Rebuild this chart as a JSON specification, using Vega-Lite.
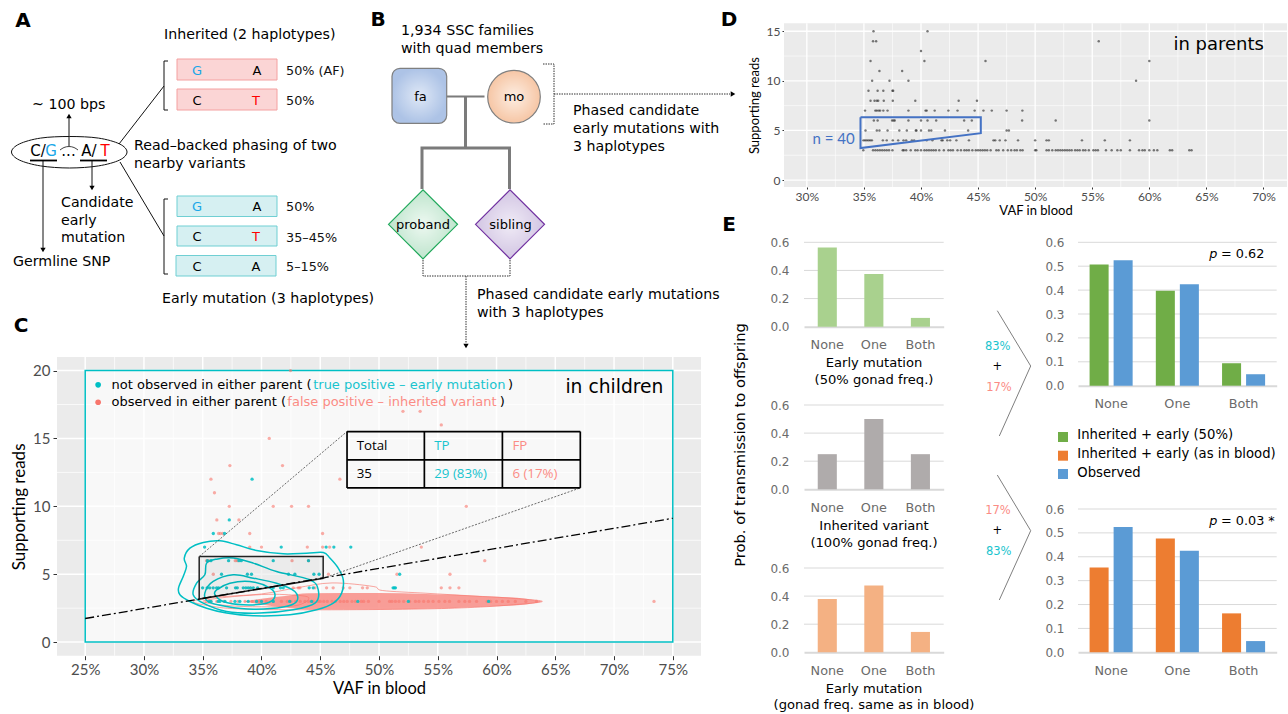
{
"$schema":"https://vega.github.io/schema/vega-lite/v6.json",
"width":1288,"height":714,"padding":0,"autosize":{"type":"none"},"background":"white",
"config":{"view":{"stroke":null},"axis":{"grid":false,"domain":false,"titleFontWeight":"normal"}},
"resolve":{"scale":{"x":"independent","y":"independent","color":"independent","strokeWidth":"independent","shape":"independent","xOffset":"independent"},"axis":{"x":"independent","y":"independent"}},
"layer":[
{"resolve":{"scale":{"color":"independent"}},
 "encoding":{
 "x":{"field":"x","type":"quantitative","scale":{"domain":[22.6,77.4],"range":[57,701]},
    "axis":{"orient":"bottom","offset":-58.3,"values":[25,30,35,40,45,50,55,60,65,70,75],"labelExpr":"datum.value+'%'","labelFont":"Lato","labelFontSize":15,"labelColor":"#4d4d4d","tickColor":"#333333","tickSize":4,"labelPadding":3,"title":"VAF in blood","titleFont":"Lato","titleFontSize":16.5,"titleColor":"#000000","titlePadding":3}},
 "y":{"field":"y","type":"quantitative","scale":{"domain":[-1,21],"range":[655.7,357]},
    "axis":{"orient":"left","offset":-57,"values":[0,5,10,15,20],"labelFont":"Lato","labelFontSize":15,"labelColor":"#4d4d4d","tickColor":"#333333","tickSize":4,"labelPadding":3,"title":"Supporting reads","titleFont":"Lato","titleFontSize":17,"titleColor":"#000000","titlePadding":4}}},
 "layer":[
 {"data":{"values":[{"x":22.6,"xe":77.4,"y":-1,"ye":21}]},"mark":{"type":"rect","color":"#ebebeb"},
  "encoding":{"x2":{"field":"xe"},"y2":{"field":"ye"}}},
 {"data":{"values":[{"x":25,"k":"major","y":-1,"ye":21},{"x":30,"k":"major","y":-1,"ye":21},{"x":35,"k":"major","y":-1,"ye":21},{"x":40,"k":"major","y":-1,"ye":21},{"x":45,"k":"major","y":-1,"ye":21},{"x":50,"k":"major","y":-1,"ye":21},{"x":55,"k":"major","y":-1,"ye":21},{"x":60,"k":"major","y":-1,"ye":21},{"x":65,"k":"major","y":-1,"ye":21},{"x":70,"k":"major","y":-1,"ye":21},{"x":75,"k":"major","y":-1,"ye":21},{"x":27.5,"k":"minor","y":-1,"ye":21},{"x":32.5,"k":"minor","y":-1,"ye":21},{"x":37.5,"k":"minor","y":-1,"ye":21},{"x":42.5,"k":"minor","y":-1,"ye":21},{"x":47.5,"k":"minor","y":-1,"ye":21},{"x":52.5,"k":"minor","y":-1,"ye":21},{"x":57.5,"k":"minor","y":-1,"ye":21},{"x":62.5,"k":"minor","y":-1,"ye":21},{"x":67.5,"k":"minor","y":-1,"ye":21},{"x":72.5,"k":"minor","y":-1,"ye":21}]},
  "mark":{"type":"rule","color":"#ffffff"},"encoding":{"y2":{"field":"ye"},"strokeWidth":{"field":"k","type":"nominal","scale":{"domain":["major","minor"],"range":[1.5,0.7]},"legend":null}}},
 {"data":{"values":[{"y":0,"k":"major","x":22.6,"xe":77.4},{"y":5,"k":"major","x":22.6,"xe":77.4},{"y":10,"k":"major","x":22.6,"xe":77.4},{"y":15,"k":"major","x":22.6,"xe":77.4},{"y":20,"k":"major","x":22.6,"xe":77.4},{"y":2.5,"k":"minor","x":22.6,"xe":77.4},{"y":7.5,"k":"minor","x":22.6,"xe":77.4},{"y":12.5,"k":"minor","x":22.6,"xe":77.4},{"y":17.5,"k":"minor","x":22.6,"xe":77.4}]},
  "mark":{"type":"rule","color":"#ffffff"},
  "encoding":{"x2":{"field":"xe"},"strokeWidth":{"field":"k","type":"nominal","scale":{"domain":["major","minor"],"range":[1.5,0.7]},"legend":null}}},
 {"data":{"values":[{"x":25,"xe":75,"y":0,"ye":20}]},"mark":{"type":"rect","fill":"#ffffff","fillOpacity":0.65,"stroke":"#00bfc4","strokeWidth":1.5},
  "encoding":{"x2":{"field":"xe"},"y2":{"field":"ye"}}},
 {"data":{"values":[{"x":38.5,"lo":3.0,"hi":3.0},{"x":40,"lo":2.78,"hi":3.2},{"x":42,"lo":2.55,"hi":3.4},{"x":44,"lo":2.4,"hi":3.6},{"x":50,"lo":2.4,"hi":3.62},{"x":54,"lo":2.45,"hi":3.55},{"x":56.5,"lo":2.52,"hi":3.48},{"x":59,"lo":2.6,"hi":3.38},{"x":61,"lo":2.68,"hi":3.3},{"x":62.5,"lo":2.78,"hi":3.2},{"x":63.9,"lo":3.0,"hi":3.0}]},
  "mark":{"type":"area","color":"#F8766D","opacity":0.7,"interpolate":"monotone"},"encoding":{"y":{"field":"lo","type":"quantitative"},"y2":{"field":"hi"}}},
 {"data":{"values":[
  {"g":"p1","x":34.2,"y":3.0},{"g":"p1","x":36,"y":3.3},{"g":"p1","x":40,"y":3.55},{"g":"p1","x":43,"y":4.0},{"g":"p1","x":46,"y":4.36},{"g":"p1","x":49.5,"y":4.1},{"g":"p1","x":50.3,"y":3.8},{"g":"p1","x":54,"y":3.6},{"g":"p1","x":58,"y":3.4},{"g":"p1","x":61,"y":3.25},{"g":"p1","x":63.9,"y":3.0},{"g":"p1","x":61,"y":2.72},{"g":"p1","x":57,"y":2.52},{"g":"p1","x":52,"y":2.42},{"g":"p1","x":44,"y":2.38},{"g":"p1","x":38,"y":2.45},{"g":"p1","x":35.5,"y":2.68},
  {"g":"p2","x":35,"y":3.0},{"g":"p2","x":37,"y":3.3},{"g":"p2","x":40,"y":3.5},{"g":"p2","x":42,"y":3.5},{"g":"p2","x":44,"y":3.3},{"g":"p2","x":43,"y":2.7},{"g":"p2","x":40,"y":2.6},{"g":"p2","x":37,"y":2.7}]},
  "mark":{"type":"line","order":null,"interpolate":"cardinal-closed","color":"#F8766D","opacity":0.65,"strokeWidth":1},"encoding":{"detail":{"field":"g"}}},
 {"data":{"values":[
  {"x":42.47,"y":20},{"x":52.04,"y":17},{"x":53.5,"y":17},{"x":55.3,"y":16},{"x":40.66,"y":15},{"x":37.31,"y":13},{"x":41.79,"y":13},{"x":35.7,"y":12},{"x":46.67,"y":12},{"x":36,"y":11},{"x":37.26,"y":10},{"x":41,"y":10},{"x":42.56,"y":10},{"x":44,"y":10},{"x":57.43,"y":10},{"x":36.2,"y":9},{"x":38.08,"y":9},{"x":36.35,"y":8},{"x":36.5,"y":8},{"x":36.7,"y":8},{"x":39,"y":8},{"x":45.2,"y":8},
  {"x":39,"y":7},{"x":40,"y":7},{"x":43.9,"y":7},{"x":45.2,"y":7},{"x":45.8,"y":7},{"x":53.6,"y":7},{"x":35.33,"y":6},{"x":35.5,"y":6},{"x":37.77,"y":6},{"x":37.94,"y":6},{"x":42.6,"y":6},{"x":44,"y":6},{"x":59,"y":6},{"x":35.9,"y":5},{"x":45.7,"y":5},{"x":51.53,"y":5},{"x":56.04,"y":5},
  {"x":42.7,"y":4},{"x":43.13,"y":4},{"x":43.27,"y":4},{"x":44.55,"y":4},{"x":45.54,"y":4},{"x":46.1,"y":4},{"x":46.96,"y":4},{"x":47.52,"y":4},{"x":48.6,"y":4},{"x":49,"y":4},{"x":55.3,"y":4},{"x":56.04,"y":4},{"x":56.8,"y":4},
  {"x":35.3,"y":3},{"x":35.7,"y":3},{"x":36.2,"y":3},{"x":36.8,"y":3},{"x":37.4,"y":3},{"x":38,"y":3},{"x":38.6,"y":3},{"x":39.2,"y":3},{"x":39.8,"y":3},{"x":40.4,"y":3},{"x":41,"y":3},{"x":41.7,"y":3},{"x":42.2,"y":3},{"x":42.5,"y":3},{"x":42.9,"y":3},{"x":43.3,"y":3},{"x":43.7,"y":3},{"x":44,"y":3},{"x":44.4,"y":3},{"x":44.8,"y":3},{"x":45,"y":3},{"x":45.3,"y":3},{"x":45.6,"y":3},{"x":46,"y":3},{"x":46.3,"y":3},{"x":46.7,"y":3},{"x":47,"y":3},{"x":47.3,"y":3},{"x":47.7,"y":3},{"x":48,"y":3},{"x":48.5,"y":3},{"x":48.7,"y":3},{"x":49.1,"y":3},{"x":50,"y":3},{"x":50.9,"y":3},{"x":51.1,"y":3},{"x":51.4,"y":3},{"x":51.7,"y":3},{"x":52.1,"y":3},{"x":52.6,"y":3},{"x":53.1,"y":3},{"x":53.4,"y":3},{"x":53.8,"y":3},{"x":54.2,"y":3},{"x":54.6,"y":3},{"x":55.1,"y":3},{"x":55.6,"y":3},{"x":56,"y":3},{"x":56.8,"y":3},{"x":57.3,"y":3},{"x":57.7,"y":3},{"x":58.3,"y":3},{"x":59.2,"y":3},{"x":59.5,"y":3},{"x":60,"y":3},{"x":60.5,"y":3},{"x":61,"y":3},{"x":61.6,"y":3},{"x":62.5,"y":3},{"x":63.4,"y":3},{"x":73.4,"y":3}]},
  "mark":{"type":"circle","color":"#F8766D","opacity":0.6,"size":11}},
 {"data":{"values":[
  {"x":39.2,"y":12},{"x":37.26,"y":9},{"x":35.9,"y":8},{"x":36.86,"y":8},{"x":35.16,"y":7},{"x":41.68,"y":7},{"x":45.5,"y":7},{"x":46.16,"y":7},{"x":47.6,"y":7},
  {"x":35.4,"y":6},{"x":35.7,"y":6},{"x":37.2,"y":6},{"x":38.08,"y":6},{"x":38.28,"y":6},{"x":41,"y":6},{"x":44,"y":6},
  {"x":36.6,"y":5},{"x":38.8,"y":5},{"x":39.15,"y":5},{"x":42.3,"y":5},{"x":42.84,"y":5},{"x":44.46,"y":5},{"x":44.9,"y":5},{"x":51.76,"y":5},
  {"x":34.99,"y":4},{"x":35.38,"y":4},{"x":35.6,"y":4},{"x":35.89,"y":4},{"x":36.18,"y":4},{"x":36.35,"y":4},{"x":37.03,"y":4},{"x":37.79,"y":4},{"x":37.94,"y":4},{"x":38.45,"y":4},{"x":38.67,"y":4},{"x":38.87,"y":4},{"x":39.07,"y":4},{"x":39.3,"y":4},{"x":39.67,"y":4},{"x":41,"y":4},{"x":41.62,"y":4},{"x":41.85,"y":4},{"x":44.06,"y":4},{"x":44.4,"y":4},{"x":51.2,"y":4},{"x":51.3,"y":4},{"x":51.4,"y":4},
  {"x":35.55,"y":3},{"x":35.7,"y":3},{"x":36.32,"y":3},{"x":36.46,"y":3},{"x":36.89,"y":3},{"x":37.74,"y":3},{"x":38.16,"y":3},{"x":38.87,"y":3},{"x":39.58,"y":3},{"x":40,"y":3},{"x":41,"y":3},{"x":42.4,"y":3},{"x":44.26,"y":3},{"x":48.2,"y":3},{"x":52.5,"y":3},{"x":59.33,"y":3}]},
  "mark":{"type":"circle","color":"#00BFC4","opacity":0.85,"size":11}},
 {"data":{"values":[
  {"g":"c1","x":32.94,"y":3.98},{"g":"c1","x":33.34,"y":4.84},{"g":"c1","x":33.62,"y":5.57},{"g":"c1","x":33.43,"y":6.19},{"g":"c1","x":33.91,"y":6.92},{"g":"c1","x":35.04,"y":7.34},{"g":"c1","x":36.46,"y":7.46},{"g":"c1","x":37.88,"y":7.17},{"g":"c1","x":39.58,"y":6.75},{"g":"c1","x":41.85,"y":6.5},{"g":"c1","x":43.84,"y":6.55},{"g":"c1","x":45.26,"y":6.6},{"g":"c1","x":45.82,"y":6.19},{"g":"c1","x":46.53,"y":5.45},{"g":"c1","x":46.96,"y":4.59},{"g":"c1","x":46.82,"y":3.61},{"g":"c1","x":46.11,"y":2.87},{"g":"c1","x":44.69,"y":2.38},{"g":"c1","x":42.42,"y":2.01},{"g":"c1","x":39.3,"y":1.94},{"g":"c1","x":37.03,"y":2.14},{"g":"c1","x":35.33,"y":2.5},{"g":"c1","x":33.91,"y":2.99},{"g":"c1","x":33.06,"y":3.49},
  {"g":"c2","x":35.33,"y":5.82},{"g":"c2","x":36.18,"y":6.11},{"g":"c2","x":37.6,"y":6.19},{"g":"c2","x":39.3,"y":5.82},{"g":"c2","x":41.28,"y":5.2},{"g":"c2","x":44.12,"y":4.59},{"g":"c2","x":44.83,"y":3.85},{"g":"c2","x":44.55,"y":2.87},{"g":"c2","x":42.7,"y":2.38},{"g":"c2","x":39.87,"y":2.14},{"g":"c2","x":37.03,"y":2.26},{"g":"c2","x":35.04,"y":2.87},{"g":"c2","x":34.19,"y":3.49},{"g":"c2","x":34.48,"y":4.34},{"g":"c2","x":35.18,"y":4.96},
  {"g":"c3","x":35.18,"y":3.61},{"g":"c3","x":35.89,"y":4.47},{"g":"c3","x":37.6,"y":4.96},{"g":"c3","x":39.3,"y":4.71},{"g":"c3","x":41.28,"y":4.34},{"g":"c3","x":42.84,"y":3.73},{"g":"c3","x":42.99,"y":2.99},{"g":"c3","x":41.85,"y":2.58},{"g":"c3","x":39.3,"y":2.43},{"g":"c3","x":37.03,"y":2.63},{"g":"c3","x":35.47,"y":2.99},
  {"g":"c4","x":36.18,"y":3.85},{"g":"c4","x":37.31,"y":4.34},{"g":"c4","x":39.01,"y":4.47},{"g":"c4","x":40.72,"y":3.98},{"g":"c4","x":41.14,"y":3.36},{"g":"c4","x":40.43,"y":2.87},{"g":"c4","x":38.45,"y":2.75},{"g":"c4","x":36.74,"y":2.99},{"g":"c4","x":36.04,"y":3.49}]},
  "mark":{"type":"line","order":null,"interpolate":"cardinal-closed","color":"#00BFC4","strokeWidth":1.5},"encoding":{"detail":{"field":"g"}}},
 {"data":{"values":[{"x":34.7,"lo":3.17,"hi":6.3},{"x":45.25,"lo":4.7,"hi":6.3}]},"mark":{"type":"area","color":"#000000","opacity":0.05},"encoding":{"y":{"field":"lo","type":"quantitative"},"y2":{"field":"hi"}}},
 {"data":{"values":[{"x":34.7,"y":6.3},{"x":45.25,"y":6.3},{"x":45.25,"y":4.7},{"x":34.7,"y":3.17},{"x":34.7,"y":6.3}]},"mark":{"type":"line","order":null,"color":"#222222","strokeWidth":1.5}},
 {"data":{"values":[{"x":25,"y":1.74},{"x":75,"y":9.12}]},"mark":{"type":"line","color":"#000000","strokeWidth":1.3,"strokeDash":[9,3,2,3]}},
 {"data":{"values":[{"g":"a","x":34.7,"y":6.3},{"g":"a","x":47.28,"y":15.51},{"g":"b","x":45.25,"y":4.7},{"g":"b","x":67.13,"y":11.36}]},"mark":{"type":"line","color":"#444444","strokeWidth":0.8,"strokeDash":[2,1.5]},"encoding":{"detail":{"field":"g"}}},
 {"data":{"values":[{"x":47.28,"xe":67.13,"y":15.51,"ye":15.51},{"x":47.28,"xe":67.13,"y":13.43,"ye":13.43},{"x":47.28,"xe":67.13,"y":11.36,"ye":11.36},{"x":47.28,"xe":47.28,"y":15.51,"ye":11.36},{"x":53.86,"xe":53.86,"y":15.51,"ye":11.36},{"x":60.5,"xe":60.5,"y":15.51,"ye":11.36},{"x":67.13,"xe":67.13,"y":15.51,"ye":11.36}]},
  "mark":{"type":"rule","color":"#000000","strokeWidth":1.7},"encoding":{"x2":{"field":"xe"},"y2":{"field":"ye"}}},
 {"data":{"values":[{"x":48.1,"y":14.47,"t":"Total","c":"k"},{"x":48.1,"y":12.4,"t":"35","c":"k"},{"x":54.7,"y":14.47,"t":"TP","c":"teal"},{"x":54.7,"y":12.4,"t":"29 (83%)","c":"teal"},{"x":61.35,"y":14.47,"t":"FP","c":"salmon"},{"x":61.35,"y":12.4,"t":"6 (17%)","c":"salmon"}]},
  "mark":{"type":"text","align":"left","baseline":"middle","font":"Open Sans","fontSize":13.3},
  "encoding":{"text":{"field":"t"},"color":{"field":"c","type":"nominal","scale":{"domain":["k","teal","salmon"],"range":["#000000","#19C4CE","#FB8C85"]},"legend":null}}},
 {"data":{"values":[{"x":27.24,"y":18.95,"t":"not observed in either parent (","c":"k"},{"x":44.4,"y":18.95,"t":"true positive – early mutation","c":"teal"},{"x":60.98,"y":18.95,"t":")","c":"k"},{"x":27.24,"y":17.67,"t":"observed in either parent (","c":"k"},{"x":42.2,"y":17.67,"t":"false positive – inherited variant","c":"salmon"},{"x":60.27,"y":17.67,"t":")","c":"k"}]},
  "mark":{"type":"text","align":"left","baseline":"middle","font":"DejaVu Sans","fontSize":13},
  "encoding":{"text":{"field":"t"},"color":{"field":"c","type":"nominal","scale":{"domain":["k","teal","salmon"],"range":["#000000","#19C4CE","#FB8C85"]},"legend":null}}},
 {"data":{"values":[{"x":26.1,"y":18.95,"c":"teal"},{"x":26.1,"y":17.67,"c":"salmon"}]},"mark":{"type":"circle","size":32,"opacity":1},
  "encoding":{"color":{"field":"c","type":"nominal","scale":{"domain":["teal","salmon"],"range":["#00BFC4","#F8766D"]},"legend":null}}},
 {"data":{"values":[{"x":74.2,"y":18.8,"t":"in children"}]},"mark":{"type":"text","align":"right","baseline":"middle","font":"DejaVu Sans","fontSize":18.7,"color":"#000000"},"encoding":{"text":{"field":"t"}}}
 ]},
{"encoding":{
 "x":{"field":"x","type":"quantitative","scale":{"domain":[28,72.06],"range":[784,1287]},
    "axis":{"orient":"bottom","offset":-527,"values":[30,35,40,45,50,55,60,65,70],"labelExpr":"datum.value+'%'","labelFont":"Lato","labelFontSize":12,"labelColor":"#4d4d4d","tickColor":"#333333","tickSize":2,"labelPadding":2,"title":"VAF in blood","titleFont":"Lato","titleFontSize":13,"titleColor":"#000000","titlePadding":2}},
 "y":{"field":"y","type":"quantitative","scale":{"domain":[-0.7,15.8],"range":[187,23.3]},
    "axis":{"orient":"left","offset":-784,"values":[0,5,10,15],"labelFont":"Lato","labelFontSize":12,"labelColor":"#4d4d4d","tickColor":"#333333","tickSize":2,"labelPadding":2,"title":"Supporting reads","titleFont":"Lato","titleFontSize":13,"titleColor":"#000000","titlePadding":5}}},
 "layer":[
 {"data":{"values":[{"x":28,"xe":72.06,"y":-0.7,"ye":15.8}]},"mark":{"type":"rect","color":"#ebebeb"},
  "encoding":{"x2":{"field":"xe"},"y2":{"field":"ye"}}},
 {"data":{"values":[{"x":30,"k":"major","y":-0.7,"ye":15.8},{"x":35,"k":"major","y":-0.7,"ye":15.8},{"x":40,"k":"major","y":-0.7,"ye":15.8},{"x":45,"k":"major","y":-0.7,"ye":15.8},{"x":50,"k":"major","y":-0.7,"ye":15.8},{"x":55,"k":"major","y":-0.7,"ye":15.8},{"x":60,"k":"major","y":-0.7,"ye":15.8},{"x":65,"k":"major","y":-0.7,"ye":15.8},{"x":70,"k":"major","y":-0.7,"ye":15.8},{"x":32.5,"k":"minor","y":-0.7,"ye":15.8},{"x":37.5,"k":"minor","y":-0.7,"ye":15.8},{"x":42.5,"k":"minor","y":-0.7,"ye":15.8},{"x":47.5,"k":"minor","y":-0.7,"ye":15.8},{"x":52.5,"k":"minor","y":-0.7,"ye":15.8},{"x":57.5,"k":"minor","y":-0.7,"ye":15.8},{"x":62.5,"k":"minor","y":-0.7,"ye":15.8},{"x":67.5,"k":"minor","y":-0.7,"ye":15.8}]},
  "mark":{"type":"rule","color":"#ffffff"},
  "encoding":{"y2":{"field":"ye"},"strokeWidth":{"field":"k","type":"nominal","scale":{"domain":["major","minor"],"range":[1.3,0.6]},"legend":null}}},
 {"data":{"values":[{"y":0,"k":"major","x":28,"xe":72.06},{"y":5,"k":"major","x":28,"xe":72.06},{"y":10,"k":"major","x":28,"xe":72.06},{"y":15,"k":"major","x":28,"xe":72.06},{"y":2.5,"k":"minor","x":28,"xe":72.06},{"y":7.5,"k":"minor","x":28,"xe":72.06},{"y":12.5,"k":"minor","x":28,"xe":72.06}]},
  "mark":{"type":"rule","color":"#ffffff"},
  "encoding":{"x2":{"field":"xe"},"strokeWidth":{"field":"k","type":"nominal","scale":{"domain":["major","minor"],"range":[1.3,0.6]},"legend":null}}},
 {"data":{"values":[
  {"x":35.84,"y":15},{"x":40.57,"y":15},{"x":35.8,"y":14},{"x":36.07,"y":14},{"x":55.57,"y":14},{"x":40,"y":13},{"x":35.58,"y":12},{"x":40.3,"y":12},{"x":45.65,"y":12},{"x":60,"y":12},{"x":36.36,"y":11},{"x":38.35,"y":11},{"x":35.72,"y":10},{"x":37.24,"y":10},{"x":38.9,"y":10},{"x":58.84,"y":10},
  {"x":35.4,"y":9},{"x":36.2,"y":9},{"x":36.7,"y":9},{"x":37.5,"y":9},{"x":37.56,"y":9},
  {"x":35.58,"y":8},{"x":35.93,"y":8},{"x":36.13,"y":8},{"x":36.25,"y":8},{"x":36.74,"y":8},{"x":37.53,"y":8},{"x":39.5,"y":8},{"x":43.3,"y":8},{"x":44.9,"y":8},
  {"x":35.1,"y":7},{"x":36,"y":7},{"x":36.13,"y":7},{"x":36.3,"y":7},{"x":36.42,"y":7},{"x":36.7,"y":7},{"x":37.07,"y":7},{"x":38.9,"y":7},{"x":40.4,"y":7},{"x":40.5,"y":7},{"x":41.2,"y":7},{"x":42.4,"y":7},{"x":43.2,"y":7},{"x":44.7,"y":7},{"x":45.47,"y":7},{"x":46.2,"y":7},{"x":47.5,"y":7},{"x":48.88,"y":7},
  {"x":35.87,"y":6},{"x":36.2,"y":6},{"x":37.47,"y":6},{"x":37.6,"y":6},{"x":37.7,"y":6},{"x":38.9,"y":6},{"x":40,"y":6},{"x":40.57,"y":6},{"x":41.33,"y":6},{"x":43.78,"y":6},{"x":44.45,"y":6},{"x":48.86,"y":6},{"x":51.8,"y":6},{"x":60,"y":6},
  {"x":35.14,"y":5},{"x":36.13,"y":5},{"x":36.36,"y":5},{"x":37.07,"y":5},{"x":38.1,"y":5},{"x":38.76,"y":5},{"x":39.55,"y":5},{"x":39.6,"y":5},{"x":40,"y":5},{"x":40.7,"y":5},{"x":40.9,"y":5},{"x":42.1,"y":5},{"x":44.13,"y":5},{"x":47.5,"y":5},{"x":47.7,"y":5},
  {"x":34.96,"y":4},{"x":35.1,"y":4},{"x":35.25,"y":4},{"x":35.4,"y":4},{"x":35.55,"y":4},{"x":35.7,"y":4},{"x":36.66,"y":4},{"x":37,"y":4},{"x":37.53,"y":4},{"x":38,"y":4},{"x":38.47,"y":4},{"x":38.7,"y":4},{"x":39.2,"y":4},{"x":39.4,"y":4},{"x":40.5,"y":4},{"x":41,"y":4},{"x":41.8,"y":4},{"x":41.9,"y":4},{"x":42.3,"y":4},{"x":42.55,"y":4},{"x":43.1,"y":4},{"x":44.2,"y":4},{"x":46.35,"y":4},{"x":46.5,"y":4},{"x":46.9,"y":4},{"x":47.4,"y":4},{"x":48.5,"y":4},{"x":50,"y":4},{"x":51,"y":4},{"x":51.2,"y":4},{"x":54.1,"y":4},{"x":56.1,"y":4},{"x":58.3,"y":4},
  {"x":34.95,"y":3},{"x":35.8,"y":3},{"x":36,"y":3},{"x":36.2,"y":3},{"x":36.4,"y":3},{"x":36.6,"y":3},{"x":36.8,"y":3},{"x":37,"y":3},{"x":37.2,"y":3},{"x":37.5,"y":3},{"x":38.4,"y":3},{"x":38.5,"y":3},{"x":38.7,"y":3},{"x":39.1,"y":3},{"x":39.5,"y":3},{"x":39.7,"y":3},{"x":40,"y":3},{"x":40.3,"y":3},{"x":40.5,"y":3},{"x":40.7,"y":3},{"x":40.9,"y":3},{"x":41.1,"y":3},{"x":41.3,"y":3},{"x":41.6,"y":3},{"x":42,"y":3},{"x":42.4,"y":3},{"x":42.6,"y":3},{"x":42.8,"y":3},{"x":43.2,"y":3},{"x":43.5,"y":3},{"x":43.8,"y":3},{"x":44,"y":3},{"x":44.2,"y":3},{"x":44.5,"y":3},{"x":44.8,"y":3},{"x":45,"y":3},{"x":45.2,"y":3},{"x":45.4,"y":3},{"x":45.6,"y":3},{"x":45.8,"y":3},{"x":46.1,"y":3},{"x":46.6,"y":3},{"x":46.8,"y":3},{"x":47.2,"y":3},{"x":47.6,"y":3},{"x":47.9,"y":3},{"x":48.2,"y":3},{"x":48.4,"y":3},{"x":48.7,"y":3},{"x":48.9,"y":3},{"x":50,"y":3},{"x":50.1,"y":3},{"x":51,"y":3},{"x":51.2,"y":3},{"x":51.5,"y":3},{"x":51.8,"y":3},{"x":52,"y":3},{"x":52.2,"y":3},{"x":52.4,"y":3},{"x":52.6,"y":3},{"x":52.8,"y":3},{"x":53,"y":3},{"x":53.2,"y":3},{"x":53.5,"y":3},{"x":53.7,"y":3},{"x":53.9,"y":3},{"x":54.2,"y":3},{"x":54.4,"y":3},{"x":54.7,"y":3},{"x":55.1,"y":3},{"x":55.3,"y":3},{"x":55.5,"y":3},{"x":56.2,"y":3},{"x":56.7,"y":3},{"x":57.2,"y":3},{"x":57.5,"y":3},{"x":58.3,"y":3},{"x":59.1,"y":3},{"x":59.4,"y":3},{"x":59.6,"y":3},{"x":60,"y":3},{"x":60.4,"y":3},{"x":60.7,"y":3},{"x":61.8,"y":3},{"x":62,"y":3},{"x":63.5,"y":3},{"x":63.7,"y":3}]},
  "mark":{"type":"circle","color":"#333333","opacity":0.65,"size":6}},
 {"data":{"values":[{"x":34.7,"y":6.34},{"x":45.24,"y":6.34},{"x":45.24,"y":4.73},{"x":34.7,"y":3.22},{"x":34.7,"y":6.34}]},"mark":{"type":"line","order":null,"color":"#4472C4","strokeWidth":2}},
 {"data":{"values":[{"x":32.34,"y":4.13,"t":"n = 40"}]},"mark":{"type":"text","align":"center","baseline":"middle","font":"Lato","fontSize":15,"color":"#4472C4"},"encoding":{"text":{"field":"t"}}},
 {"data":{"values":[{"x":70.04,"y":13.6,"t":"in parents"}]},"mark":{"type":"text","align":"right","baseline":"middle","font":"DejaVu Sans","fontSize":18,"color":"#000000"},"encoding":{"text":{"field":"t"}}}
 ]},
{"data":{"values":[{"v":0.2},{"v":0.4},{"v":0.6}]},"mark":{"type":"rule","color":"#d9d9d9","strokeWidth":1},
 "encoding":{"x":{"datum":0,"type":"quantitative","scale":{"domain":[0,1],"range":[804,943.7]},"axis":null},"x2":{"datum":1},
  "y":{"field":"v","type":"quantitative","scale":{"domain":[0,0.6],"range":[326.7,242.3]},"axis":{"orient":"left","offset":-804,"values":[0,0.2,0.4,0.6],"format":".1f","title":null,"tickSize":0,"ticks":false,"labelPadding":15,"labelFont":"DejaVu Sans","labelFontSize":12,"labelColor":"#6b6b6b"}}}},
{"data":{"values":[{"k":"None","p":0.5625},{"k":"One","p":0.375},{"k":"Both","p":0.0625}]},"mark":{"type":"bar","color":"#A9D18E"},
 "encoding":{"x":{"field":"k","type":"nominal","sort":null,"scale":{"type":"band","domain":["None","One","Both"],"range":[804,943.7],"paddingInner":0.59,"paddingOuter":0.295},"axis":{"orient":"bottom","offset":-387.3,"title":null,"labelAngle":0,"domain":true,"domainColor":"#d9d9d9","domainWidth":2,"ticks":false,"tickSize":0,"labelPadding":12,"labelFont":"DejaVu Sans","labelFontSize":12.8,"labelColor":"#6b6b6b"}},
  "y":{"field":"p","type":"quantitative","stack":null,"scale":{"domain":[0,0.6],"range":[326.7,242.3]},"axis":null}}},
{"data":{"values":[{"v":0.2},{"v":0.4},{"v":0.6}]},"mark":{"type":"rule","color":"#d9d9d9","strokeWidth":1},
 "encoding":{"x":{"datum":0,"type":"quantitative","scale":{"domain":[0,1],"range":[804,943.7]},"axis":null},"x2":{"datum":1},
  "y":{"field":"v","type":"quantitative","scale":{"domain":[0,0.6],"range":[489.3,405]},"axis":{"orient":"left","offset":-804,"values":[0,0.2,0.4,0.6],"format":".1f","title":null,"tickSize":0,"ticks":false,"labelPadding":15,"labelFont":"DejaVu Sans","labelFontSize":12,"labelColor":"#6b6b6b"}}}},
{"data":{"values":[{"k":"None","p":0.25},{"k":"One","p":0.5},{"k":"Both","p":0.25}]},"mark":{"type":"bar","color":"#AFABAB"},
 "encoding":{"x":{"field":"k","type":"nominal","sort":null,"scale":{"type":"band","domain":["None","One","Both"],"range":[804,943.7],"paddingInner":0.59,"paddingOuter":0.295},"axis":{"orient":"bottom","offset":-224.7,"title":null,"labelAngle":0,"domain":true,"domainColor":"#d9d9d9","domainWidth":2,"ticks":false,"tickSize":0,"labelPadding":12,"labelFont":"DejaVu Sans","labelFontSize":12.8,"labelColor":"#6b6b6b"}},
  "y":{"field":"p","type":"quantitative","stack":null,"scale":{"domain":[0,0.6],"range":[489.3,405]},"axis":null}}},
{"data":{"values":[{"v":0.2},{"v":0.4},{"v":0.6}]},"mark":{"type":"rule","color":"#d9d9d9","strokeWidth":1},
 "encoding":{"x":{"datum":0,"type":"quantitative","scale":{"domain":[0,1],"range":[804,943.7]},"axis":null},"x2":{"datum":1},
  "y":{"field":"v","type":"quantitative","scale":{"domain":[0,0.6],"range":[652.3,568]},"axis":{"orient":"left","offset":-804,"values":[0,0.2,0.4,0.6],"format":".1f","title":null,"tickSize":0,"ticks":false,"labelPadding":15,"labelFont":"DejaVu Sans","labelFontSize":12,"labelColor":"#6b6b6b"}}}},
{"data":{"values":[{"k":"None","p":0.38},{"k":"One","p":0.475},{"k":"Both","p":0.145}]},"mark":{"type":"bar","color":"#F4B183"},
 "encoding":{"x":{"field":"k","type":"nominal","sort":null,"scale":{"type":"band","domain":["None","One","Both"],"range":[804,943.7],"paddingInner":0.59,"paddingOuter":0.295},"axis":{"orient":"bottom","offset":-61.7,"title":null,"labelAngle":0,"domain":true,"domainColor":"#d9d9d9","domainWidth":2,"ticks":false,"tickSize":0,"labelPadding":12,"labelFont":"DejaVu Sans","labelFontSize":12.8,"labelColor":"#6b6b6b"}},
  "y":{"field":"p","type":"quantitative","stack":null,"scale":{"domain":[0,0.6],"range":[652.3,568]},"axis":null}}},
{"data":{"values":[{"v":0.1},{"v":0.2},{"v":0.3},{"v":0.4},{"v":0.5},{"v":0.6}]},"mark":{"type":"rule","color":"#d9d9d9","strokeWidth":1},
 "encoding":{"x":{"datum":0,"type":"quantitative","scale":{"domain":[0,1],"range":[1078,1276.7]},"axis":null},"x2":{"datum":1},
  "y":{"field":"v","type":"quantitative","scale":{"domain":[0,0.6],"range":[385.7,242.3]},"axis":{"orient":"left","offset":-1078,"values":[0,0.1,0.2,0.3,0.4,0.5,0.6],"format":".1f","title":null,"tickSize":0,"ticks":false,"labelPadding":14,"labelFont":"DejaVu Sans","labelFontSize":12,"labelColor":"#6b6b6b"}}}},
{"data":{"values":[{"k":"None","s":"Inherited + early (50%)","p":0.507},{"k":"None","s":"Observed","p":0.525},{"k":"One","s":"Inherited + early (50%)","p":0.397},{"k":"One","s":"Observed","p":0.425},{"k":"Both","s":"Inherited + early (50%)","p":0.094},{"k":"Both","s":"Observed","p":0.048}]},"mark":{"type":"bar"},
 "encoding":{"x":{"field":"k","type":"nominal","sort":null,"scale":{"type":"band","domain":["None","One","Both"],"range":[1078,1276.7],"paddingInner":0.35,"paddingOuter":0.175},"axis":{"orient":"bottom","offset":-328.3,"title":null,"labelAngle":0,"domain":true,"domainColor":"#d9d9d9","domainWidth":2,"ticks":false,"tickSize":0,"labelPadding":12,"labelFont":"DejaVu Sans","labelFontSize":12.8,"labelColor":"#6b6b6b"}},
  "xOffset":{"field":"s","type":"nominal","scale":{"domain":["Inherited + early (50%)","Observed"],"paddingInner":0.208}},
  "color":{"field":"s","type":"nominal","scale":{"domain":["Inherited + early (50%)","Observed"],"range":["#70AD47","#5B9BD5"]},"legend":null},
  "y":{"field":"p","type":"quantitative","stack":null,"scale":{"domain":[0,0.6],"range":[385.7,242.3]},"axis":null}}},
{"data":{"values":[{"v":0.1},{"v":0.2},{"v":0.3},{"v":0.4},{"v":0.5},{"v":0.6}]},"mark":{"type":"rule","color":"#d9d9d9","strokeWidth":1},
 "encoding":{"x":{"datum":0,"type":"quantitative","scale":{"domain":[0,1],"range":[1078,1276.7]},"axis":null},"x2":{"datum":1},
  "y":{"field":"v","type":"quantitative","scale":{"domain":[0,0.6],"range":[652.3,509]},"axis":{"orient":"left","offset":-1078,"values":[0,0.1,0.2,0.3,0.4,0.5,0.6],"format":".1f","title":null,"tickSize":0,"ticks":false,"labelPadding":14,"labelFont":"DejaVu Sans","labelFontSize":12,"labelColor":"#6b6b6b"}}}},
{"data":{"values":[{"k":"None","s":"Inherited + early (as in blood)","p":0.355},{"k":"None","s":"Observed","p":0.525},{"k":"One","s":"Inherited + early (as in blood)","p":0.477},{"k":"One","s":"Observed","p":0.425},{"k":"Both","s":"Inherited + early (as in blood)","p":0.163},{"k":"Both","s":"Observed","p":0.047}]},"mark":{"type":"bar"},
 "encoding":{"x":{"field":"k","type":"nominal","sort":null,"scale":{"type":"band","domain":["None","One","Both"],"range":[1078,1276.7],"paddingInner":0.35,"paddingOuter":0.175},"axis":{"orient":"bottom","offset":-61.7,"title":null,"labelAngle":0,"domain":true,"domainColor":"#d9d9d9","domainWidth":2,"ticks":false,"tickSize":0,"labelPadding":12,"labelFont":"DejaVu Sans","labelFontSize":12.8,"labelColor":"#6b6b6b"}},
  "xOffset":{"field":"s","type":"nominal","scale":{"domain":["Inherited + early (as in blood)","Observed"],"paddingInner":0.208}},
  "color":{"field":"s","type":"nominal","scale":{"domain":["Inherited + early (as in blood)","Observed"],"range":["#ED7D31","#5B9BD5"]},"legend":null},
  "y":{"field":"p","type":"quantitative","stack":null,"scale":{"domain":[0,0.6],"range":[652.3,509]},"axis":null}}},
{"resolve":{"scale":{"color":"independent"}},
 "encoding":{
 "x":{"field":"u","type":"quantitative","scale":{"domain":[0,1288],"range":[0,1288]},"axis":null},
 "y":{"field":"v","type":"quantitative","scale":{"domain":[0,714],"range":[0,714]},"axis":null}},
 "layer":[
 {"data":{"values":[{"u":177,"ue":277,"v":59,"ve":80},{"u":177,"ue":277,"v":89,"ve":110}]},"mark":{"type":"rect","fill":"#FBD5D5","stroke":"#F4A0A0","strokeWidth":1},"encoding":{"x2":{"field":"ue"},"y2":{"field":"ve"}}},
 {"data":{"values":[{"u":177,"ue":277,"v":196,"ve":216.5},{"u":177,"ue":277,"v":226,"ve":246},{"u":176,"ue":276,"v":255.5,"ve":276}]},"mark":{"type":"rect","fill":"#D6F0F2","stroke":"#6FCFD3","strokeWidth":1},"encoding":{"x2":{"field":"ue"},"y2":{"field":"ve"}}},
 {"data":{"values":[{"g":"b1","u":168,"v":61},{"g":"b1","u":164,"v":61},{"g":"b1","u":164,"v":110},{"g":"b1","u":168,"v":110},{"g":"b2","u":168,"v":199},{"g":"b2","u":164,"v":199},{"g":"b2","u":164,"v":274},{"g":"b2","u":168,"v":274},{"g":"l1","u":164,"v":86},{"g":"l1","u":119,"v":144},{"g":"l2","u":164,"v":236},{"g":"l2","u":120,"v":162},{"g":"a1","u":69,"v":146},{"g":"a1","u":69,"v":118},{"g":"a2","u":92,"v":161},{"g":"a2","u":92,"v":188},{"g":"a3","u":43,"v":161},{"g":"a3","u":43,"v":250}]},
  "mark":{"type":"line","order":null,"color":"#111111","strokeWidth":1},"encoding":{"detail":{"field":"g"}}},
 {"data":{"values":[{"u":127,"v":152},{"u":119.7,"v":160},{"u":98.5,"v":165.9},{"u":69.5,"v":168},{"u":40.5,"v":165.9},{"u":19.3,"v":160},{"u":11.5,"v":152},{"u":19.3,"v":144},{"u":40.5,"v":138.1},{"u":69.5,"v":136.5},{"u":98.5,"v":138.1},{"u":119.7,"v":144}]},
  "mark":{"type":"line","order":null,"interpolate":"cardinal-closed","color":"#111111","strokeWidth":1}},
 {"data":{"values":[{"u":60,"v":150},{"u":64,"v":147.5},{"u":69,"v":146.5},{"u":74,"v":147.5},{"u":78,"v":150}]},"mark":{"type":"line","order":null,"interpolate":"monotone","color":"#111111","strokeWidth":0.8}},
 {"data":{"values":[{"g":"a","u":30,"v":160.5},{"g":"a","u":57,"v":160.5},{"g":"b","u":80,"v":160.5},{"g":"b","u":107,"v":160.5}]},"mark":{"type":"line","color":"#000000","strokeWidth":1.8},"encoding":{"detail":{"field":"g"}}},
 {"data":{"values":[{"u":69,"v":116,"d":"up"},{"u":92,"v":188,"d":"down"},{"u":43,"v":250,"d":"down"},{"u":733,"v":94,"d":"right"},{"u":466,"v":346,"d":"down"}]},
  "mark":{"type":"point","filled":true,"color":"#000000","opacity":1,"size":28},"encoding":{"shape":{"field":"d","type":"nominal","scale":{"domain":["up","down","right"],"range":["triangle-up","triangle-down","triangle-right"]},"legend":null}}},
 {"data":{"values":[{"g":"h","u":447,"v":96.5},{"g":"h","u":484.5,"v":96.5}]},"mark":{"type":"line","color":"#7b7b7b","strokeWidth":2},"encoding":{"detail":{"field":"g"}}},
 {"data":{"values":[{"g":"v","u":465.5,"v":96.5},{"g":"v","u":465.5,"v":148},{"g":"k","u":422,"v":189},{"g":"k","u":422,"v":148},{"g":"k","u":509.5,"v":148},{"g":"k","u":509.5,"v":189}]},"mark":{"type":"line","order":null,"color":"#7b7b7b","strokeWidth":3},"encoding":{"detail":{"field":"g"}}},
 {"data":{"values":[{"g":"m","u":543,"v":64},{"g":"m","u":554,"v":64},{"g":"m","u":554,"v":124},{"g":"m","u":543,"v":124},{"g":"r","u":554,"v":94},{"g":"r","u":730,"v":94},{"g":"k","u":423,"v":260},{"g":"k","u":423,"v":276},{"g":"k","u":510,"v":276},{"g":"k","u":510,"v":260},{"g":"s","u":466,"v":276},{"g":"s","u":466,"v":343}]},
  "mark":{"type":"line","order":null,"color":"#333333","strokeWidth":1,"strokeDash":[1.5,1]},"encoding":{"detail":{"field":"g"}}},
 {"data":{"values":[{"u":392,"ue":446.7,"v":68.3,"ve":123.3}]},"mark":{"type":"rect","cornerRadius":8,"stroke":"#7f7f7f","strokeWidth":1.2,"fill":{"gradient":"radial","stops":[{"offset":0,"color":"#dfe8f6"},{"offset":1,"color":"#adc3e6"}]}},"encoding":{"x2":{"field":"ue"},"y2":{"field":"ve"}}},
 {"data":{"values":[{"u":514,"v":96.7}]},"mark":{"type":"point","shape":"circle","size":2770,"opacity":1,"stroke":"#7f7f7f","strokeWidth":1.2,"fill":{"gradient":"radial","stops":[{"offset":0,"color":"#fdeee3"},{"offset":1,"color":"#f6c6a5"}]}}},
 {"data":{"values":[{"u":423,"v":224.3}]},"mark":{"type":"point","shape":"diamond","size":4761,"opacity":1,"stroke":"#1FA85A","strokeWidth":1.2,"fill":{"gradient":"radial","stops":[{"offset":0,"color":"#edf8f1"},{"offset":1,"color":"#bfe5cd"}]}}},
 {"data":{"values":[{"u":510,"v":224.3}]},"mark":{"type":"point","shape":"diamond","size":4761,"opacity":1,"stroke":"#7030A0","strokeWidth":1.2,"fill":{"gradient":"radial","stops":[{"offset":0,"color":"#f0ebf6"},{"offset":1,"color":"#d2c5e3"}]}}},
 {"data":{"values":[{"u":997.3,"v":310.7,"g":"a"},{"u":1030.7,"v":366,"g":"a"},{"u":999.3,"v":436,"g":"a"},{"u":997.3,"v":475,"g":"b"},{"u":1030.7,"v":530.7,"g":"b"},{"u":999.3,"v":600,"g":"b"}]},"mark":{"type":"line","order":null,"color":"#7f7f7f","strokeWidth":1},"encoding":{"detail":{"field":"g"}}},
 {"data":{"values":[{"u":1058,"ue":1068,"v":432,"ve":442,"s":"Inherited + early (50%)"},{"u":1058,"ue":1068,"v":450.7,"ve":460.7,"s":"Inherited + early (as in blood)"},{"u":1058,"ue":1068,"v":469,"ve":479,"s":"Observed"}]},"mark":{"type":"rect"},
  "encoding":{"x2":{"field":"ue"},"y2":{"field":"ve"},"color":{"field":"s","type":"nominal","scale":{"domain":["Inherited + early (50%)","Inherited + early (as in blood)","Observed"],"range":["#70AD47","#ED7D31","#5B9BD5"]},"legend":null}}},
 {"data":{"values":[{"u":23,"v":21,"t":"A"},{"u":378,"v":20,"t":"B"},{"u":21,"v":326,"t":"C"},{"u":729,"v":20,"t":"D"},{"u":729,"v":225,"t":"E"}]},"mark":{"type":"text","align":"center","baseline":"middle","font":"DejaVu Sans","fontWeight":"bold","fontSize":20,"color":"#000000"},"encoding":{"text":{"field":"t"}}},
 {"data":{"values":[
  {"u":164,"v":35,"t":"Inherited (2 haplotypes)"},{"u":32,"v":105,"t":"~ 100 bps"},{"u":134,"v":146,"t":"Read–backed phasing of two"},{"u":134,"v":164,"t":"nearby variants"},{"u":61,"v":203,"t":"Candidate"},{"u":61,"v":221,"t":"early"},{"u":61,"v":238,"t":"mutation"},{"u":13,"v":262,"t":"Germline SNP"},{"u":162,"v":299,"t":"Early mutation (3 haplotypes)"},
  {"u":401,"v":31,"t":"1,934 SSC families"},{"u":401,"v":49,"t":"with quad members"},{"u":573,"v":111,"t":"Phased candidate"},{"u":573,"v":129,"t":"early mutations with"},{"u":573,"v":147,"t":"3 haplotypes"},{"u":477,"v":295,"t":"Phased candidate early mutations"},{"u":477,"v":313,"t":"with 3 haplotypes"}]},
  "mark":{"type":"text","align":"left","baseline":"middle","font":"DejaVu Sans","fontSize":14.2,"color":"#000000"},"encoding":{"text":{"field":"t"}}},
 {"data":{"values":[{"u":1077.3,"v":435,"t":"Inherited + early (50%)"},{"u":1077.3,"v":453.7,"t":"Inherited + early (as in blood)"},{"u":1077.3,"v":472.7,"t":"Observed"}]},
  "mark":{"type":"text","align":"left","baseline":"middle","font":"DejaVu Sans","fontSize":13.2,"color":"#000000"},"encoding":{"text":{"field":"t"}}},
 {"data":{"values":[{"u":286,"v":71,"t":"50% (AF)"},{"u":286,"v":101,"t":"50%"},{"u":286,"v":207,"t":"50%"},{"u":286,"v":238,"t":"35–45%"},{"u":286,"v":267,"t":"5–15%"}]},"mark":{"type":"text","align":"left","baseline":"middle","font":"DejaVu Sans","fontSize":12.8,"color":"#111111"},"encoding":{"text":{"field":"t"}}},
 {"data":{"values":[{"u":197,"v":71,"t":"G","c":"blue"},{"u":257,"v":71,"t":"A","c":"k"},{"u":197,"v":101,"t":"C","c":"k"},{"u":256,"v":101,"t":"T","c":"red"},{"u":197,"v":207,"t":"G","c":"blue"},{"u":257,"v":207,"t":"A","c":"k"},{"u":197,"v":237,"t":"C","c":"k"},{"u":256,"v":237,"t":"T","c":"red"},{"u":197,"v":267,"t":"C","c":"k"},{"u":256,"v":267,"t":"A","c":"k"},{"u":420.5,"v":97,"t":"fa","c":"k"},{"u":514,"v":97,"t":"mo","c":"k"},{"u":423,"v":224.5,"t":"proband","c":"k"},{"u":510.5,"v":224.5,"t":"sibling","c":"k"}]},
  "mark":{"type":"text","align":"center","baseline":"middle","font":"DejaVu Sans","fontSize":13},"encoding":{"text":{"field":"t"},"color":{"field":"c","type":"nominal","scale":{"domain":["k","blue","red"],"range":["#000000","#1AA7E8","#FF0000"]},"legend":null}}},
 {"data":{"values":[{"u":38,"v":151,"t":"C/","c":"k"},{"u":51,"v":151,"t":"G","c":"blue"},{"u":68.5,"v":151,"t":"...","c":"k"},{"u":89,"v":151,"t":"A/","c":"k"},{"u":105,"v":151,"t":"T","c":"red"}]},
  "mark":{"type":"text","align":"center","baseline":"middle","font":"DejaVu Sans","fontSize":15},"encoding":{"text":{"field":"t"},"color":{"field":"c","type":"nominal","scale":{"domain":["k","blue","red"],"range":["#000000","#1AA7E8","#FF0000"]},"legend":null}}},
 {"data":{"values":[{"u":874,"v":363,"t":"Early mutation"},{"u":874,"v":379.5,"t":"(50% gonad freq.)"},{"u":874,"v":526,"t":"Inherited variant"},{"u":874,"v":542.5,"t":"(100% gonad freq.)"},{"u":874,"v":689,"t":"Early mutation"},{"u":874,"v":705,"t":"(gonad freq. same as in blood)"}]},"mark":{"type":"text","align":"center","baseline":"middle","font":"DejaVu Sans","fontSize":13.1,"color":"#000000"},"encoding":{"text":{"field":"t"}}},
 {"data":{"values":[{"u":741,"v":445,"t":"Prob. of transmission to offspring"}]},"mark":{"type":"text","align":"center","baseline":"middle","angle":270,"font":"DejaVu Sans","fontSize":14.7,"color":"#000000"},"encoding":{"text":{"field":"t"}}},
 {"data":{"values":[{"u":997.7,"v":346.7,"t":"83%","c":"teal"},{"u":997.3,"v":366.7,"t":"+","c":"k"},{"u":999,"v":387.7,"t":"17%","c":"salmon"},{"u":998,"v":511,"t":"17%","c":"salmon"},{"u":997.3,"v":531,"t":"+","c":"k"},{"u":998.7,"v":552,"t":"83%","c":"teal"}]},"mark":{"type":"text","align":"center","baseline":"middle","font":"DejaVu Sans","fontSize":11.5},"encoding":{"text":{"field":"t"},"color":{"field":"c","type":"nominal","scale":{"domain":["k","teal","salmon"],"range":["#000000","#19C4CE","#FB8C85"]},"legend":null}}},
 {"data":{"values":[{"u":1209.3,"v":254,"t":"p"},{"u":1209.3,"v":521,"t":"p"}]},"mark":{"type":"text","align":"left","baseline":"middle","font":"DejaVu Sans","fontStyle":"italic","fontSize":12.8,"color":"#000000"},"encoding":{"text":{"field":"t"}}},
 {"data":{"values":[{"u":1221,"v":254,"t":"= 0.62"},{"u":1221,"v":521,"t":"= 0.03 *"}]},"mark":{"type":"text","align":"left","baseline":"middle","font":"DejaVu Sans","fontSize":12.8,"color":"#000000"},"encoding":{"text":{"field":"t"}}}
 ]}
]}
